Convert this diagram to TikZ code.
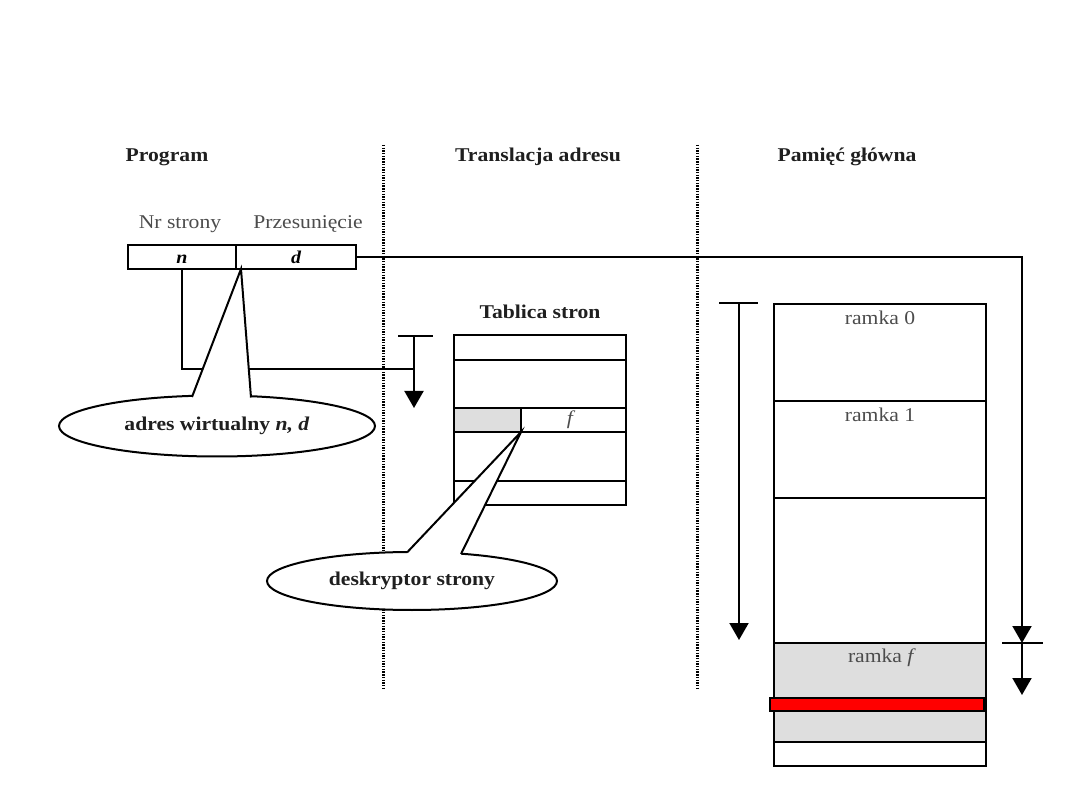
\documentclass[tikz,border=0pt]{standalone}
\usepackage{fontspec}
\setmainfont{Liberation Serif}
\usetikzlibrary{arrows.meta,shapes.geometric}
\newcommand{\sx}[1]{\scalebox{1.11}[1]{#1}}
\begin{document}
\begin{tikzpicture}[x=1pt,y=-1pt,
  lbl/.style={font=\fontsize{19.5}{22}\selectfont, text=black!70, inner sep=0pt},
  hd/.style={font=\bfseries\fontsize{19.5}{22}\selectfont, text=black!88, inner sep=0pt},
  divider/.style={line width=3pt, dash pattern=on 1.4pt off 1.3pt},
  ln/.style={line width=2pt},
  thn/.style={line width=1.3pt},
  arr/.style={-{Triangle[width=19pt,length=17pt]}},
  tbar/.style={line width=2.4pt},
  bubble/.style={ellipse, draw, line width=2pt, fill=white, inner sep=0pt},
  cell/.style={draw, line width=2pt, inner sep=0pt, minimum height=24pt,
    text height=14pt, text depth=0pt,
    font=\bfseries\itshape\fontsize{18}{20}\selectfont},
]
\useasboundingbox (0,0) rectangle (1080,810);

% dotted dividers
\coordinate (d1t) at (383,145); \coordinate (d1b) at (383,690);
\coordinate (d2t) at (697,145); \coordinate (d2b) at (697,690);
\draw[divider] (d1t) -- (d1b);
\draw[divider] (d2t) -- (d2b);

% headings
\node[hd] (hprog)  at (167,157) {\sx{Program}};
\node[hd] (htrans) at (538,157) {\sx{Translacja adresu}};
\node[hd] (hmem)   at (847,157) {\sx{Pamięć główna}};

% virtual address
\node[lbl] (lnr)  at (180,224) {\sx{Nr strony}};
\node[lbl] (lprz) at (308,224) {\sx{Przesunięcie}};
\node[cell, minimum width=108pt] (cn) at (182,257) {\sx{n}};
\node[cell, minimum width=120pt] (cd) at (296,257) {\sx{d}};

% offset line to main memory
\coordinate (rc) at (1022,257);
\coordinate (rb) at (1022,643);
\coordinate (re) at (1022,695);
\coordinate (rbl) at (1002,643); \coordinate (rbr) at (1043,643);
\draw[ln, arr] (cd.east) -- (rc) -- (rb);
\draw[tbar] (rbl) -- (rbr);
\draw[ln, arr] (rb) -- (re);

% page number line to page table
\coordinate (nl) at (182,369);
\coordinate (pa) at (414,369);
\draw[ln] (cn.south) -- (nl) -- (pa);
\coordinate (pt) at (414,336);
\coordinate (pe) at (414,408);
\coordinate (ptl) at (398,336); \coordinate (ptr) at (433,336);
\draw[tbar] (ptl) -- (ptr);
\draw[ln, arr] (pt) -- (pe);

% page table
\node[hd] (htab) at (540,312) {\sx{Tablica stron}};
\fill[black!13] (454,408) rectangle (521,432);
\draw[thn] (454,432) -- (626,432) (454,481) -- (626,481);
\draw[ln] (454,360) -- (626,360) (454,408) -- (626,408) (521,408) -- (521,432);
\draw[ln] (454,335) rectangle (626,505);
\node[lbl, font=\itshape\fontsize{19.5}{22}\selectfont] (ff) at (570,420) {\sx{f}};

% callout: virtual address
\node[bubble, minimum width=316pt, minimum height=61pt, hd] (ea) at (217,426) {\sx{adres wirtualny \textit{n, d}}};
\coordinate (a1) at (192,397);
\coordinate (a2) at (251,397.5);
\coordinate (aa) at (241,269);
\fill[white] (a1) -- (aa) -- (a2) -- (251,401) -- (192,401) -- cycle;
\draw[line width=2pt] (a1) -- (aa) -- (a2);

% callout: page descriptor
\node[bubble, minimum width=290pt, minimum height=58pt, hd] (eb) at (412,581) {\sx{deskryptor strony}};
\coordinate (b1) at (407,552.5);
\coordinate (b2) at (461,554);
\coordinate (ba) at (521,432);
\fill[white] (b1) -- (ba) -- (b2) -- (461,558) -- (407,558) -- cycle;
\draw[line width=2pt] (b1) -- (ba) -- (b2);

% main memory
\fill[black!13] (774,643) rectangle (986,742);
\draw[thn] (774,401) -- (986,401) (774,498) -- (986,498);
\draw[ln] (774,643) -- (986,643) (774,742) -- (986,742);
\draw[ln] (774,304) rectangle (986,766);
\draw[line width=2pt, fill=red] (770,698) rectangle (984,711);
\node[lbl] (r0) at (880,318) {\sx{ramka 0}};
\node[lbl] (r1) at (880,415) {\sx{ramka 1}};
\node[lbl] (rf) at (882,658) {\sx{ramka \textit{f}}};

% memory arrow
\coordinate (mt) at (739,303);
\coordinate (me) at (739,640);
\coordinate (mtl) at (719,303); \coordinate (mtr) at (758,303);
\draw[tbar] (mtl) -- (mtr);
\draw[ln, arr] (mt) -- (me);
\end{tikzpicture}
\end{document}
